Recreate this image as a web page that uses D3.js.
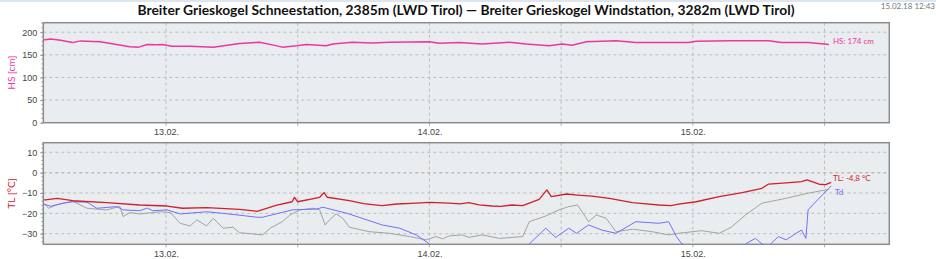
<!DOCTYPE html>
<html>
<head>
<meta charset="utf-8">
<script src="https://cdn.jsdelivr.net/npm/d3@7"></script>
<style>
  html, body { margin: 0; padding: 0; background: #fff; }
  svg { display: block; font-family: Lato, "Noto Sans", sans-serif; }
  .grid line { stroke: #bcbcbc; stroke-dasharray: 3 3; }
  .axis text { fill: #444; font-size: 9px; }
  .axis path, .axis line { stroke: #888; }
</style>
</head>
<body>
<svg id="chart" width="936" height="259"></svg>
<script>
// hours after 13.02.2018 00:00
const hsHours = [-11.2, -10.5, -9.6, -8.5, -7.8, -6, -4.5, -3.3, -2.5, -1.7, -0.8, -0.3, 0.5, 2.2, 4.3, 6.7, 8.5, 9.7, 10.6, 11.9, 12.8, 14.6, 15.2, 17, 18.8, 20.4, 24, 24.9, 26.7, 28.8, 31.3, 32.8, 34.9, 36.1, 37, 38.3, 41, 42.8, 47.6, 48.3, 51.5, 54.9, 56.1, 58.5, 60.4];
const hsValues = [183, 185, 182, 177, 180.8, 179, 173, 168, 167, 173, 172, 172.6, 169, 169, 167, 175, 178, 172, 167, 170, 173, 170, 174, 178, 176, 178, 179, 175.6, 177, 174, 178, 174, 170, 174, 171, 179, 181, 177, 177, 180, 181, 181, 177, 177, 173];

const tlHours = [-11.2, -11, -9.9, -8.5, -5.4, -2.4, 0.1, 1.5, 3.7, 6.7, 8.3, 10.1, 11.5, 11.7, 12, 14, 14.4, 14.7, 16.7, 18, 19, 19.7, 21, 22.8, 24, 25.8, 26.8, 27.6, 28.5, 29.7, 30.5, 31.5, 32.5, 34, 34.7, 35.1, 36.5, 37.5, 38.8, 40.4, 42.5, 43.5, 44.9, 46, 46.7, 48.3, 50.4, 52.5, 54.3, 54.9, 56.5, 57.9, 58.4, 59.5, 60.1, 60.6];
const tlValues = [-13.4, -13.4, -12.6, -13.8, -14.7, -15.9, -16.4, -17.5, -17.2, -18, -19, -16, -14.3, -12.1, -14.3, -12.1, -9.8, -12.1, -13.8, -15.2, -15.8, -16.2, -15.4, -15, -14.6, -15, -15.3, -14.7, -15.8, -16.4, -16.6, -15.9, -16.2, -13.1, -8.5, -11.8, -10.5, -11, -11.5, -12.6, -14.7, -15.2, -15.9, -16.2, -15.5, -14.3, -11.8, -9.8, -7.7, -5.6, -5, -4.4, -3.6, -5.7, -5.9, -4.8];

const tdHours = [-11.2, -10.5, -9.4, -8.5, -7.2, -6.3, -4.5, -3.9, -2.4, -1.7, -1.2, 0.1, 1.3, 3.7, 5.2, 8.3, 8.8, 11.5, 13.7, 14.3, 16.5, 18.3, 19.7, 21.3, 22.8, 24, 24.9, 28.5, 32.2, 33.1, 34.6, 35.5, 36.7, 37.4, 38.5, 39.7, 41, 42.8, 44.9, 45.8, 46.5, 47, 48.5, 52.2, 52.8, 53.7, 54.3, 54.9, 55.8, 56.5, 57.4, 57.9, 58.3, 58.5, 59.2, 60.4, 60.6];
const tdValues = [-15.4, -16.5, -15, -14.3, -14.5, -17.5, -16.7, -18.3, -18.7, -17.4, -18.7, -18.3, -20.3, -19.2, -20, -21.9, -21.9, -18.3, -17.9, -17, -20, -23.2, -25.7, -27.3, -30.6, -35, -37, -40, -38, -35, -27.3, -31.8, -27.3, -29.8, -25.7, -28.2, -29.8, -24.1, -24.9, -24.1, -31.4, -35, -37, -37, -35, -32.3, -35, -36, -31.4, -33, -29.8, -28.2, -32.3, -18.3, -14.3, -7.7, -6.5];

const tgHours = [-11.2, -10.7, -10, -8.5, -7.2, -5.4, -4.2, -3.9, -3.3, -2.4, -0.5, 0.4, 1.3, 2.2, 2.8, 3.7, 4.3, 5.2, 6.1, 6.7, 7.9, 8.8, 9.5, 10.6, 11.3, 12.2, 13.4, 14, 14.5, 14.9, 15.5, 16.1, 16.7, 18.5, 20.4, 22.2, 23.7, 24.6, 25.2, 25.8, 27, 27.6, 28.8, 30.4, 32.5, 33.1, 34.6, 35.8, 36.7, 37.5, 38.5, 39.2, 40.1, 41, 42.5, 44.3, 45.8, 46.7, 48.8, 50.4, 51.5, 52.8, 54.3, 56.5, 58.5, 60.4];
const tgValues = [-14.7, -17.5, -15.9, -14, -17.5, -18.3, -16.6, -21.6, -19.6, -20.3, -19.2, -19.6, -24.9, -26.2, -23.2, -26.2, -22.4, -27.3, -26.8, -29.5, -30.1, -30.6, -27.3, -24.1, -20.8, -18.3, -17.5, -18.3, -25.7, -23.2, -20.3, -22.4, -26.8, -29, -29.8, -31.4, -33, -31.4, -32.5, -31.1, -30.6, -31.8, -30.6, -32.3, -31.4, -24.1, -21.3, -18.3, -16.7, -15.9, -24.1, -20.8, -22.4, -29, -27.8, -29, -30.6, -29.8, -28.5, -29.8, -26.8, -20.8, -15, -12.6, -10.1, -8.2];

const dayTicks = [0, 24, 48];
const dayLabels = ["13.02.", "14.02.", "15.02."];
const gridHours = [0, 12, 24, 36, 48, 60];
const hsTicks = [0, 50, 100, 150, 200];
const tTicks = [-30, -20, -10, 0, 10];

const titleText = "Breiter Grieskogel Schneestation, 2385m (LWD Tirol) \u2014 Breiter Grieskogel Windstation, 3282m (LWD Tirol)";
const stampText = "15.02.18 12:43";

const svg = d3.select("#chart");
const left = 43.3, right = 889.3;

const x = d3.scaleLinear().domain([-11.18, 65.9]).range([left, right]);

svg.append("rect").attr("x", 0).attr("y", 0).attr("width", 936).attr("height", 2).attr("fill", "#dde6ee");

svg.append("text")
  .attr("x", 466).attr("y", 15)
  .attr("text-anchor", "middle")
  .attr("font-size", 14).attr("font-weight", "bold").attr("fill", "#111")
  .attr("textLength", 657).attr("lengthAdjust", "spacingAndGlyphs")
  .text(titleText);

svg.append("text")
  .attr("x", 935).attr("y", 9)
  .attr("text-anchor", "end")
  .attr("font-size", 8).attr("fill", "#777")
  .text(stampText);

function panel(opts) {
  const { top, bottom, y, ticks, minor, label, labelColor, id } = opts;
  const g = svg.append("g");

  g.append("rect")
    .attr("x", left).attr("y", top)
    .attr("width", right - left).attr("height", bottom - top)
    .attr("fill", "#e9edf0");

  g.append("clipPath").attr("id", id)
    .append("rect")
    .attr("x", left).attr("y", top)
    .attr("width", right - left).attr("height", bottom - top);

  // vertical grid
  g.append("g").attr("class", "grid")
    .selectAll("line").data(gridHours).join("line")
    .attr("x1", (d) => x(d)).attr("x2", (d) => x(d))
    .attr("y1", top).attr("y2", bottom);

  // horizontal grid
  g.append("g").attr("class", "grid")
    .selectAll("line").data(ticks.filter((t) => t !== y.domain()[0])).join("line")
    .attr("x1", left).attr("x2", right)
    .attr("y1", (d) => y(d)).attr("y2", (d) => y(d))
    .attr("stroke", (d) => opts.gridColor ? opts.gridColor(d) : null)
    .attr("stroke-width", (d) => opts.gridWidth ? opts.gridWidth(d) : 1);

  // y axis
  const yAxis = g.append("g").attr("class", "axis")
    .attr("transform", `translate(${left},0)`)
    .call(d3.axisLeft(y).tickValues(ticks).tickSize(3).tickPadding(3));
  yAxis.select(".domain").remove();
  yAxis.selectAll("text").attr("fill", labelColor);
  yAxis.selectAll("line").attr("stroke", "#999");

  g.append("g").attr("transform", `translate(${left},0)`)
    .selectAll("line").data(minor).join("line")
    .attr("x1", -2).attr("x2", 0)
    .attr("y1", (d) => y(d)).attr("y2", (d) => y(d))
    .attr("stroke", "#aaa");

  // x axis
  const xAxis = g.append("g").attr("class", "axis")
    .attr("transform", `translate(0,${bottom})`)
    .call(d3.axisBottom(x).tickValues(dayTicks).tickFormat((d, i) => dayLabels[i]).tickSize(0).tickPadding(6));
  xAxis.select(".domain").remove();

  g.append("g").attr("transform", `translate(0,${bottom})`)
    .selectAll("line").data(gridHours).join("line")
    .attr("x1", (d) => x(d)).attr("x2", (d) => x(d))
    .attr("y1", 0).attr("y2", 3)
    .attr("stroke", "#aaa");

  g.append("text")
    .attr("transform", `translate(15,${(top + bottom) / 2}) rotate(-90)`)
    .attr("text-anchor", "middle")
    .attr("font-size", 10).attr("fill", labelColor)
    .text(label);

  const lines = g.append("g").attr("clip-path", `url(#${id})`);
  return { g, lines, frame: () => g.append("rect")
    .attr("x", left).attr("y", top)
    .attr("width", right - left).attr("height", bottom - top)
    .attr("fill", "none").attr("stroke", "#8c8c8c").attr("stroke-width", 1.5) };
}

function drawLine(layer, hours, values, y, color, width) {
  const pts = hours.map((h, i) => [h, values[i]]);
  layer.append("path")
    .datum(pts)
    .attr("fill", "none")
    .attr("stroke", color)
    .attr("stroke-width", width)
    .attr("stroke-linejoin", "round")
    .attr("d", d3.line().x((d) => x(d[0])).y((d) => y(d[1])));
}

// top panel: snow height
const yHs = d3.scaleLinear().domain([0, 221]).range([122.7, 22.7]);
const p1 = panel({
  top: 22.7, bottom: 122.7, y: yHs, ticks: hsTicks,
  minor: d3.range(0, 221, 10),
  label: "HS [cm]", labelColor: "#f0359c", id: "clip-hs",
  gridColor: (d) => d === 200 ? "#f08cc4" : null,
});
drawLine(p1.lines, hsHours, hsValues, yHs, "#f0359c", 1.5);
p1.frame();
svg.append("text").attr("x", 833).attr("y", 43.5)
  .attr("font-size", 8).attr("fill", "#f0359c").text("HS: 174 cm");

// bottom panel: temperatures
const yT = d3.scaleLinear().domain([-35.2, 14.7]).range([244.3, 142.7]);
const p2 = panel({
  top: 142.7, bottom: 244.3, y: yT, ticks: tTicks,
  minor: d3.range(-34, 15, 2),
  label: "TL [°C]", labelColor: "#d0202a", id: "clip-t",
  gridColor: (d) => d === 0 ? "#a8a8a8" : null,
  gridWidth: (d) => d === 0 ? 1.5 : 1,
});
drawLine(p2.lines, tgHours, tgValues, yT, "#a2a2a2", 1);
drawLine(p2.lines, tdHours, tdValues, yT, "#7070ff", 1);
drawLine(p2.lines, tlHours, tlValues, yT, "#d0202a", 1.3);
p2.frame();
svg.append("text").attr("x", 833).attr("y", 180.5)
  .attr("font-size", 8).attr("fill", "#d0202a").text("TL: -4,8 °C");
svg.append("text").attr("x", 835).attr("y", 194.5)
  .attr("font-size", 8).attr("fill", "#7070ff").text("Td");
</script>
</body>
</html>
